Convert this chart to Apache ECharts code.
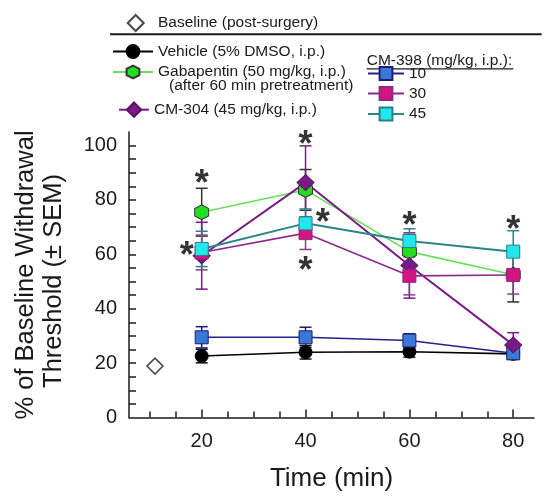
<!DOCTYPE html>
<html>
<head>
<meta charset="utf-8">
<script src="https://cdn.jsdelivr.net/npm/echarts@6/dist/echarts.min.js"></script>
<style>
  html, body { margin: 0; padding: 0; background: #fff; }
  #chart { width: 550px; height: 504px; }
</style>
</head>
<body>
<div id="chart"></div>
<script>
const timePoints = [20, 40, 60, 80];
const baselinePoint = [11, 18.9];

const vehicleMean = [22.6, 24.0, 24.2, 23.4];
const vehicleSem = [2.5, 2.5, 2.0, 2.0];
const gabapentinMean = [75.5, 83.7, 61.0, 52.5];
const gabapentinSem = [8.8, 7.5, 5.0, 10.0];
const cm304Mean = [59.5, 86.4, 55.9, 26.7];
const cm304Sem = [12.3, 13.5, 12.0, 4.5];
const cm398Dose10Mean = [29.5, 29.5, 28.3, 23.6];
const cm398Dose10Sem = [3.9, 3.7, 2.5, 2.0];
const cm398Dose30Mean = [60.7, 67.8, 52.1, 52.4];
const cm398Dose30Sem = [6.4, 6.0, 7.0, 7.0];
const cm398Dose45Mean = [62.0, 71.4, 64.9, 61.0];
const cm398Dose45Sem = [6.5, 5.3, 4.5, 7.7];

// significance marks (x, y in data units)
const asteriskPoints = [[20, 88.8], [17.1, 62.4], [40, 103.2], [43.3, 74.4], [40, 56.8], [60, 73.4], [80, 71.9]];

const xMajorTicks = [20, 40, 60, 80];
const xMinorTicks = [10, 15, 25, 30, 35, 45, 50, 55, 65, 70, 75];
const yLabelTicks = [0, 20, 40, 60, 80, 100];
const yTicks = [5, 10, 15, 20, 25, 30, 35, 40, 45, 50, 55, 60, 65, 70, 75, 80, 85, 90, 95, 100];

const FONT = '"Liberation Sans", Arial, sans-serif';
const INK = "#1a1a1a";
const HEXAGON = "path://M5,0 L9.33,2.5 L9.33,7.5 L5,10 L0.67,7.5 L0.67,2.5 Z";
const DIAMOND = "path://M5,0 L10,5 L5,10 L0,5 Z";

const chart = echarts.init(document.getElementById("chart"));

function toPoints(means) {
  return timePoints.map((t, i) => [t, means[i]]);
}

function errorBars(name, means, sems, color) {
  return {
    type: "custom",
    name: name + " SEM",
    silent: true,
    z: 2,
    data: timePoints.map((t, i) => [t, means[i], sems[i]]),
    renderItem: (params, api) => {
      const x = api.value(0);
      const y = api.value(1);
      const e = api.value(2);
      const top = api.coord([x, y + e]);
      const bot = api.coord([x, y - e]);
      const hw = 6;
      const style = { stroke: color, lineWidth: 1.5 };
      return {
        type: "group",
        children: [
          { type: "line", shape: { x1: top[0], y1: top[1], x2: bot[0], y2: bot[1] }, style },
          { type: "line", shape: { x1: top[0] - hw, y1: top[1], x2: top[0] + hw, y2: top[1] }, style },
          { type: "line", shape: { x1: bot[0] - hw, y1: bot[1], x2: bot[0] + hw, y2: bot[1] }, style },
        ],
      };
    },
  };
}

function lineSeries(name, means, symbol, size, fill, border, lineColor, lineWidth) {
  return {
    type: "line",
    name: name,
    data: toPoints(means),
    symbol: symbol,
    symbolSize: size,
    showAllSymbol: true,
    z: 3,
    lineStyle: { color: lineColor, width: lineWidth },
    itemStyle: { color: fill, borderColor: border, borderWidth: 1 },
  };
}

const legendBase = {
  padding: 0,
  selectedMode: false,
  orient: "horizontal",
  symbolKeepAspect: true,
  textStyle: { fontFamily: FONT, fontSize: 15.5, color: INK },
};

const legends = [
  { data: ["Baseline (post-surgery)"], left: 126.7, top: 14, itemWidth: 34.6, itemHeight: 16 },
  { data: ["Vehicle (5% DMSO, i.p.)"], left: 112, top: 43.5, itemWidth: 40, itemHeight: 16 },
  { data: ["Gabapentin (50 mg/kg, i.p.)"], left: 112, top: 64, itemWidth: 40, itemHeight: 16 },
  { data: ["CM-304 (45 mg/kg, i.p.)"], left: 118, top: 101.5, itemWidth: 30, itemHeight: 18 },
  { data: ["10"], left: 367, top: 65.5, itemWidth: 36, itemHeight: 16 },
  { data: ["30"], left: 367, top: 85.5, itemWidth: 36, itemHeight: 16 },
  { data: ["45"], left: 367, top: 106, itemWidth: 36, itemHeight: 16 },
].map((l) => Object.assign({}, legendBase, l));

const textStyle = (extra) => Object.assign({ fill: INK, fontFamily: FONT }, extra);

chart.setOption({
  animation: false,
  backgroundColor: "#fff",
  legend: legends,
  grid: { left: 129, right: 16, top: 132, bottom: 86.5 },
  xAxis: [
    {
      type: "value",
      min: 6,
      max: 84,
      position: "bottom",
      name: "Time (min)",
      nameLocation: "middle",
      nameGap: 48,
      nameTextStyle: { fontFamily: FONT, fontSize: 26, color: INK },
      axisLine: { lineStyle: { color: INK, width: 1.5 } },
      axisTick: { inside: true, length: 8, customValues: xMajorTicks, lineStyle: { color: INK, width: 1.5 } },
      axisLabel: { customValues: xMajorTicks, margin: 14, fontFamily: FONT, fontSize: 20, color: INK },
      splitLine: { show: false },
    },
    {
      type: "value",
      min: 6,
      max: 84,
      position: "bottom",
      offset: 0,
      axisLine: { show: false },
      axisTick: { inside: true, length: 6, customValues: xMinorTicks, lineStyle: { color: INK, width: 1.5 } },
      axisLabel: { show: false },
      splitLine: { show: false },
    },
  ],
  yAxis: {
    type: "value",
    min: 0,
    max: 105,
    axisLine: { show: true, lineStyle: { color: INK, width: 1.5 } },
    axisTick: { show: true, inside: true, length: 7, customValues: yTicks, lineStyle: { color: INK, width: 1.5 } },
    axisLabel: { customValues: yLabelTicks, margin: 12, fontFamily: FONT, fontSize: 20, color: INK },
    splitLine: { show: false },
  },
  graphic: [
    { type: "line", shape: { x1: 110, y1: 34.3, x2: 541.7, y2: 34.3 }, style: { stroke: INK, lineWidth: 2 } },
    {
      type: "text", x: 169, y: 85.5,
      style: textStyle({ text: "(after 60 min pretreatment)", fontSize: 15.5, verticalAlign: "middle", textVerticalAlign: "middle" }),
    },
    {
      type: "text", x: 366.7, y: 61,
      style: textStyle({ text: "CM-398 (mg/kg, i.p.):", fontSize: 15.5, verticalAlign: "middle", textVerticalAlign: "middle" }),
    },
    { type: "line", shape: { x1: 366.7, y1: 68.8, x2: 513.3, y2: 68.8 }, style: { stroke: INK, lineWidth: 1.2 } },
    {
      type: "text", x: 26, y: 275, rotation: Math.PI / 2,
      style: textStyle({ text: "% of Baseline Withdrawal", fontSize: 25.5, align: "center", textAlign: "center", verticalAlign: "middle", textVerticalAlign: "middle" }),
    },
    {
      type: "text", x: 54, y: 281, rotation: Math.PI / 2,
      style: textStyle({ text: "Threshold (\u00b1 SEM)", fontSize: 25.5, align: "center", textAlign: "center", verticalAlign: "middle", textVerticalAlign: "middle" }),
    },
  ],
  series: [
    errorBars("Vehicle", vehicleMean, vehicleSem, "#111"),
    errorBars("10", cm398Dose10Mean, cm398Dose10Sem, "#1c1c70"),
    errorBars("Gabapentin", gabapentinMean, gabapentinSem, "#333"),
    errorBars("CM-304", cm304Mean, cm304Sem, "#7a1a86"),
    errorBars("30", cm398Dose30Mean, cm398Dose30Sem, "#8b3a8b"),
    errorBars("45", cm398Dose45Mean, cm398Dose45Sem, "#2a8585"),
    {
      type: "scatter",
      name: "Baseline (post-surgery)",
      data: [baselinePoint],
      symbol: DIAMOND,
      symbolSize: 16,
      symbolKeepAspect: true,
      z: 3,
      itemStyle: { color: "#fff", borderColor: INK, borderWidth: 1.5 },
    },
    lineSeries("Vehicle (5% DMSO, i.p.)", vehicleMean, "circle", 13, "#000", "#000", "#000", 1.6),
    lineSeries("10", cm398Dose10Mean, "rect", 13, "#3a78d6", "#1c1c80", "#22228c", 1.6),
    lineSeries("Gabapentin (50 mg/kg, i.p.)", gabapentinMean, HEXAGON, [14, 15], "#22dd22", "#333", "#66e055", 1.6),
    lineSeries("CM-304 (45 mg/kg, i.p.)", cm304Mean, "diamond", [17, 16], "#7a1a86", "#5a1066", "#7a1a86", 2),
    lineSeries("30", cm398Dose30Mean, "rect", 13, "#d4147e", "#8b2a8b", "#8b2a8b", 1.6),
    lineSeries("45", cm398Dose45Mean, "rect", 13, "#22e8ee", "#2a8080", "#2a8585", 2),
    {
      type: "scatter",
      name: "significance",
      data: asteriskPoints,
      symbolSize: 1,
      silent: true,
      z: 4,
      itemStyle: { color: "rgba(0,0,0,0)" },
      label: {
        show: true,
        position: "inside",
        formatter: "*",
        offset: [0, 9],
        fontFamily: FONT,
        fontSize: 36,
        fontWeight: "bold",
        color: "#000",
      },
    },
  ],
});
</script>
</body>
</html>
